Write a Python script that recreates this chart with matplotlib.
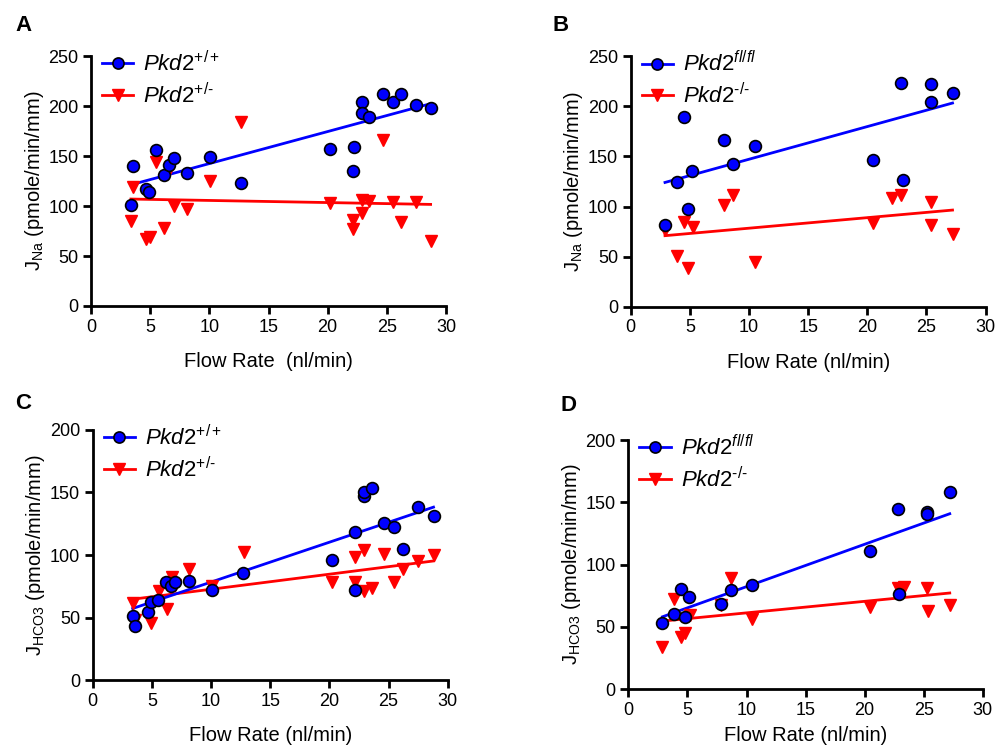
import numpy as np
import matplotlib
matplotlib.use('Agg')
import matplotlib.pyplot as plt

plt.rcParams['font.family'] = ['Liberation Sans', 'DejaVu Sans']
plt.rcParams['mathtext.fontset'] = 'custom'
plt.rcParams['mathtext.rm'] = 'Liberation Sans'
plt.rcParams['mathtext.it'] = 'Liberation Sans:italic'
plt.rcParams['mathtext.bf'] = 'Liberation Sans:bold'

# ---- Panel A: J_Na, Pkd2 +/+ vs +/- ----
a_wt_x = [3.37, 3.51, 4.63, 4.92, 5.48, 6.18, 6.6, 6.97, 8.09, 10.06, 12.7,
          20.2, 22.2, 22.1, 22.9, 22.9, 23.5, 24.7, 25.5, 26.2, 27.5, 28.7]
a_wt_y = [101, 140, 116.7, 114, 156, 131, 141, 147.7, 132.7, 149, 122.7,
          156.7, 158.7, 135, 204, 193, 189, 211.7, 204, 212, 200.7, 198]
a_het_x = [3.37, 3.51, 4.63, 4.97, 5.48, 6.18, 6.6, 6.97, 8.09, 10.06, 12.7,
           20.2, 22.1, 22.1, 22.9, 22.9, 23.5, 24.7, 25.5, 26.2, 27.5, 28.7]
a_het_y = [85, 119.3, 67, 69.3, 143.7, 77.7, 136, 100.3, 96.7, 125, 184.3,
           102.7, 86, 77, 92.7, 106, 105.3, 166, 104.3, 83.7, 104.3, 65]

# ---- Panel B: J_Na, Pkd2 fl/fl vs -/- ----
b_wt_x = [2.9, 3.89, 4.54, 4.82, 5.15, 7.89, 8.68, 10.5, 20.5, 22.85, 23.0,
          25.4, 25.4, 27.2]
b_wt_y = [81.7, 125, 189.3, 97.3, 135, 166, 142.3, 160.7, 146, 223.3, 126,
          222.3, 204.7, 213.3]
b_ko_x = [2.9, 3.89, 4.5, 4.82, 5.24, 7.89, 8.68, 10.5, 20.5, 22.06, 22.85,
          25.4, 25.4, 27.2]
b_ko_y = [77, 50.7, 85, 38.3, 80, 101.7, 111.7, 45, 83.3, 108.3, 111.7,
          105, 81.7, 72.7]

# ---- Panel C: J_HCO3, Pkd2 +/+ vs +/- ----
c_wt_x = [3.38, 3.58, 4.7, 4.9, 5.55, 6.2, 6.6, 7.0, 8.14, 10.1, 12.7,
          20.25, 22.2, 22.2, 22.9, 22.9, 23.6, 24.6, 25.5, 26.2, 27.5, 28.8]
c_wt_y = [51.2, 43.2, 54.7, 62.7, 64, 78.1, 75.5, 78.7, 78.9, 72, 85.9,
          96, 72, 118.1, 147.2, 150.7, 153.3, 125.9, 122.1, 104.5, 138.1, 131.5]
c_het_x = [3.38, 3.58, 4.9, 5.6, 6.25, 6.7, 7.0, 8.14, 10.06, 12.8,
           20.25, 22.2, 22.2, 22.9, 22.9, 23.6, 24.6, 25.5, 26.25, 27.5, 28.8]
c_het_y = [61.3, 48, 45.3, 71.2, 56.5, 82.7, 76, 88.5, 75.5, 102.7,
           78.1, 98.7, 78.1, 104, 71.5, 73.3, 100.8, 78.7, 88.8, 95.5, 100]

# ---- Panel D: J_HCO3, Pkd2 fl/fl vs -/- ----
d_wt_x = [2.88, 3.86, 4.43, 4.8, 5.16, 7.84, 8.66, 10.5, 20.45, 22.8, 22.9,
          25.3, 25.3, 27.2]
d_wt_y = [52.9, 60.4, 80.2, 57.8, 73.8, 68.2, 79.7, 83.7, 111, 144.9, 76.2,
          142.5, 140.6, 158]
d_ko_x = [2.88, 3.86, 4.43, 4.8, 5.2, 7.84, 8.66, 10.5, 20.45, 22.8, 23.3,
          25.3, 25.4, 27.2]
d_ko_y = [33.7, 72.5, 42.2, 44.9, 59.6, 68, 89, 56.1, 65.8, 81, 82.4,
          81, 63.1, 67.6]

x_ticks = [0, 5, 10, 15, 20, 25, 30]
jna_ticks = [0, 50, 100, 150, 200, 250]
jhco3_ticks = [0, 50, 100, 150, 200]

HY = '\u2010'  # plain hyphen (mathtext turns '-' into a wide minus)
lbl_wt_het = r'$\mathit{Pkd2}^{+/+}$'
lbl_het = r'$\mathit{Pkd2}^{+/' + HY + '}$'
lbl_flfl = r'$\mathit{Pkd2}^{\mathit{fl/fl}}$'
lbl_ko = r'$\mathit{Pkd2}^{\mathit{' + HY + '/' + HY + '}}$'

ylab_na = r'J$_{\mathrm{Na}}$ (pmole/min/mm)'
ylab_hco3 = r'J$_{\mathrm{HCO3}}$ (pmole/min/mm)'

panels = [
    ('A', [0.0904, 0.592, 0.3525, 0.3333], a_wt_x, a_wt_y, a_het_x, a_het_y,
     lbl_wt_het, lbl_het, jna_ticks, ylab_na, 'Flow Rate  (nl/min)', 12),
    ('B', [0.6263, 0.591, 0.3525, 0.334], b_wt_x, b_wt_y, b_ko_x, b_ko_y,
     lbl_flfl, lbl_ko, jna_ticks, ylab_na, 'Flow Rate (nl/min)', 12),
    ('C', [0.092, 0.0933, 0.3526, 0.3334], c_wt_x, c_wt_y, c_het_x, c_het_y,
     lbl_wt_het, lbl_het, jhco3_ticks, ylab_hco3, 'Flow Rate (nl/min)', 12),
    ('D', [0.624, 0.081, 0.352, 0.3323], d_wt_x, d_wt_y, d_ko_x, d_ko_y,
     lbl_flfl, lbl_ko, jhco3_ticks, ylab_hco3, 'Flow Rate (nl/min)', 5),
]
letter_pos = {'A': (15, 15), 'B': (553, 15), 'C': (15, 393), 'D': (560, 395)}

fig = plt.figure(figsize=(10.07, 7.5), dpi=100)

for (letter, rect, wx, wy, kx, ky, wlab, klab, yticks, ylab, xlab, xpad) in panels:
    ax = fig.add_axes(rect)
    wx, wy, kx, ky = map(np.asarray, (wx, wy, kx, ky))

    # linear regression lines over each group's x range
    bw = np.polyfit(wx, wy, 1)
    bk = np.polyfit(kx, ky, 1)
    xw = np.array([wx.min(), wx.max()])
    xk = np.array([kx.min(), kx.max()])

    ax.plot(xk, np.polyval(bk, xk), color='#ff0000', lw=2, zorder=2)
    ax.plot(xw, np.polyval(bw, xw), color='#0000ff', lw=2, zorder=2)
    ax.plot(kx, ky, 'v', color='#ff0000', ms=9, mec='#ff0000', zorder=3, clip_on=False)
    ax.plot(wx, wy, 'o', color='#0000ff', ms=8.5, mec='black', mew=1.2, zorder=4, clip_on=False)

    # legend proxies: marker with line through it
    hw, = ax.plot([], [], '-o', color='#0000ff', ms=8, mec='black', mew=1.2, lw=2)
    hk, = ax.plot([], [], '-v', color='#ff0000', ms=9, lw=2)
    ax.legend([hw, hk], [wlab, klab], loc='upper left', frameon=False,
              fontsize=16, handlelength=1.4, handletextpad=0.45,
              borderaxespad=0.1, labelspacing=0.3, bbox_to_anchor=(0.0, 1.065))

    ax.set_xlim(0, 30)
    ax.set_ylim(yticks[0], yticks[-1])
    ax.set_xticks(x_ticks)
    ax.set_yticks(yticks)
    for s in ('top', 'right'):
        ax.spines[s].set_visible(False)
    for s in ('left', 'bottom'):
        ax.spines[s].set_linewidth(2)
    ax.tick_params(width=2, length=6, labelsize=13, pad=3)
    ax.set_xlabel(xlab, fontsize=14.5, labelpad=xpad)
    ax.set_ylabel(ylab, fontsize=14.5, labelpad=2)

    lx, ly = letter_pos[letter]
    fig.text(lx / 1007, 1 - ly / 750, letter, fontsize=16, fontweight='bold',
             ha='left', va='top')

fig.savefig('out.png', dpi=100)
